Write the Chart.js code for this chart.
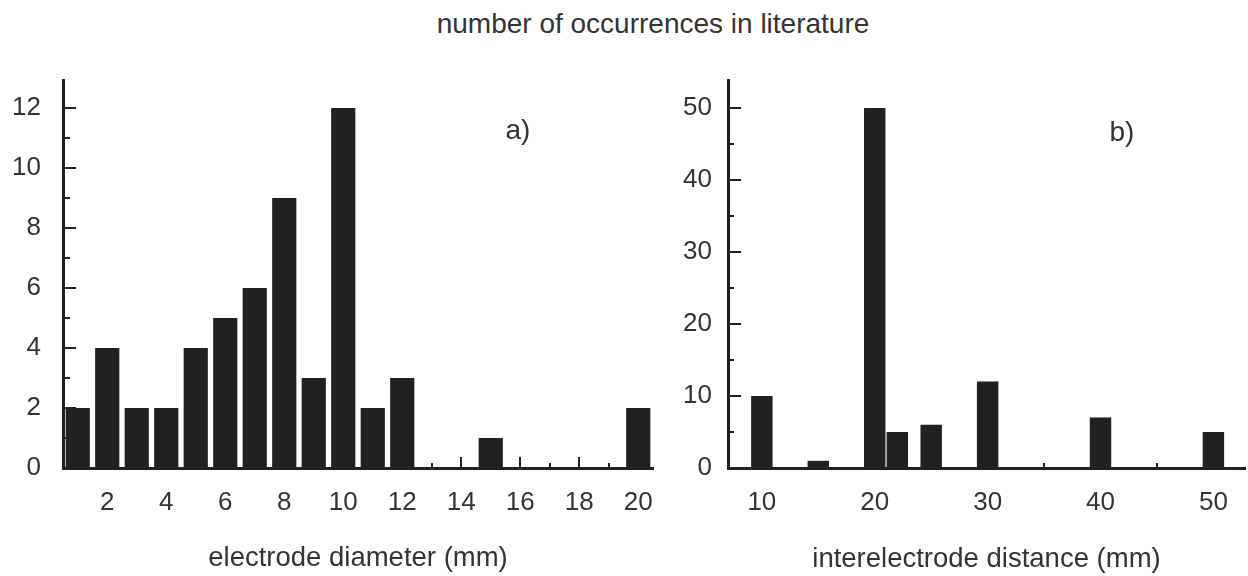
<!DOCTYPE html>
<html><head><meta charset="utf-8">
<script src="https://cdn.jsdelivr.net/npm/chart.js@4.4.0/dist/chart.umd.min.js"></script>
<style>
html,body{margin:0;padding:0;background:#fff;}
#wrap{position:relative;width:1248px;height:576px;overflow:hidden;background:#fff;}
#title{position:absolute;left:653px;top:9px;transform:translateX(-50%);white-space:nowrap;font:28px "Liberation Sans",Arial,sans-serif;line-height:30px;color:#333;}
canvas{position:absolute;top:0;}
</style></head><body>
<div id="wrap">
<div id="title">number of occurrences in literature</div>
<canvas id="ca" width="660" height="576" style="left:0;width:660px;height:576px"></canvas>
<canvas id="cb" width="586" height="576" style="left:662px;width:586px;height:576px"></canvas>
</div>
<script>
// ---- data: panel a) electrode diameter ----
const diameterCategories = [1,2,3,4,5,6,7,8,9,10,11,12,13,14,15,16,17,18,19,20];
const diameterCounts     = [2,4,2,2,4,5,6,9,3,12,2,3,0,0,1,0,0,0,0,2];
const diameterXTicks     = [2,4,6,8,10,12,14,16,18,20];
const diameterYTicks     = [0,2,4,6,8,10,12];
// ---- data: panel b) interelectrode distance ----
const distanceCategories = [10,15,20,22,25,30,40,50];
const distanceCounts     = [10,1,50,5,6,12,7,5];
const distanceXTicks     = [10,20,30,40,50];
const distanceYTicks     = [0,10,20,30,40,50];

const FONT = '"Liberation Sans", Arial, sans-serif';
const TEXT = '#333';
const INK = '#222120';

const innerTicks = {
  id: 'innerTicks',
  beforeDatasetsDraw(chart, args, o) {
    const ctx = chart.ctx, area = chart.chartArea;
    ctx.save();
    ctx.strokeStyle = INK; ctx.lineWidth = 2;
    ['x','y'].forEach(id => {
      const s = chart.scales[id];
      const major = s.ticks.map(t => t.value);
      const step = major[1] - major[0];
      const minor = [];
      for (let v = major[0] - step/2; v <= s.max + 1e-9; v += step) if (v >= s.min) minor.push(v);
      const draw = (v, len) => {
        const p = Math.round(s.getPixelForValue(v));
        ctx.beginPath();
        if (id === 'x') { ctx.moveTo(p, area.bottom); ctx.lineTo(p, area.bottom - len); }
        else { ctx.moveTo(area.left, p); ctx.lineTo(area.left + len, p); }
        ctx.stroke();
      };
      major.forEach(v => draw(v, o[id][0]));
      minor.forEach(v => draw(v, o[id][1]));
    });
    ctx.restore();
  }
};

const panelLabel = {
  id: 'panelLabel',
  afterDraw(chart, args, o) {
    const ctx = chart.ctx;
    ctx.save();
    ctx.font = '28px ' + FONT;
    ctx.fillStyle = TEXT;
    ctx.textAlign = 'center';
    ctx.textBaseline = 'middle';
    ctx.fillText(o.text, chart.chartArea.left + o.dx, chart.chartArea.top + o.dy);
    ctx.restore();
  }
};

function noEdgePadding(s) {
  s.paddingLeft = 0; s.paddingRight = 0; s.paddingTop = 0; s.paddingBottom = 0;
}

function makeChart(id, cats, counts, xTicks, yTicks, opt) {
  return new Chart(document.getElementById(id), {
    type: 'bar',
    data: {
      datasets: [{
        data: cats.map((c, i) => ({x: c, y: counts[i]})),
        backgroundColor: INK,
        borderWidth: 0,
        barPercentage: opt.barPct,
        categoryPercentage: 1
      }]
    },
    options: {
      responsive: false,
      devicePixelRatio: 1,
      animation: false,
      layout: { padding: { top: 80, right: opt.padRight, left: 0, bottom: 0 } },
      plugins: {
        legend: { display: false },
        tooltip: { enabled: false },
        innerTicks: opt.ticks,
        panelLabel: opt.label
      },
      scales: {
        x: {
          type: 'linear',
          offset: false,
          min: opt.xMin, max: opt.xMax,
          afterBuildTicks: s => { s.ticks = xTicks.map(v => ({value: v})); },
          afterFit: s => { s.height = 108; noEdgePadding(s); },
          grid: { display: false, drawTicks: false },
          border: { display: true, color: INK, width: 3 },
          ticks: { font: { size: 26, family: FONT }, color: TEXT, padding: 19, maxRotation: 0, autoSkip: false },
          title: { display: true, text: opt.xTitle, font: { size: 27.5, family: FONT }, color: TEXT, padding: { top: 0, bottom: opt.titlePad } }
        },
        y: {
          min: 0, max: opt.yMax,
          afterBuildTicks: s => { s.ticks = yTicks.map(v => ({value: v})); },
          afterFit: s => { s.width = opt.yWidth; noEdgePadding(s); },
          grid: { display: false, drawTicks: false },
          border: { display: true, color: INK, width: 3 },
          ticks: { font: { size: 26, family: FONT }, color: TEXT, padding: opt.yPad }
        }
      }
    },
    plugins: [innerTicks, panelLabel]
  });
}

makeChart('ca', diameterCategories, diameterCounts, diameterXTicks, diameterYTicks, {
  xMin: 0.5, xMax: 20.5, yMax: 12.93, barPct: 0.82, padRight: 7, yWidth: 63, yPad: 22,
  xTitle: 'electrode diameter (mm)', titlePad: 1,
  ticks: { x: [11, 5], y: [13, 7] },
  label: { text: 'a)', dx: 455, dy: 51 }
});
makeChart('cb', distanceCategories, distanceCounts, distanceXTicks, distanceYTicks, {
  xMin: 7, xMax: 52.8, yMax: 53.9, barPct: 0.95, padRight: 3, yWidth: 66, yPad: 16,
  xTitle: 'interelectrode distance (mm)', titlePad: 0,
  ticks: { x: [11, 5], y: [13, 6] },
  label: { text: 'b)', dx: 394, dy: 53 }
});
</script>
</body></html>
